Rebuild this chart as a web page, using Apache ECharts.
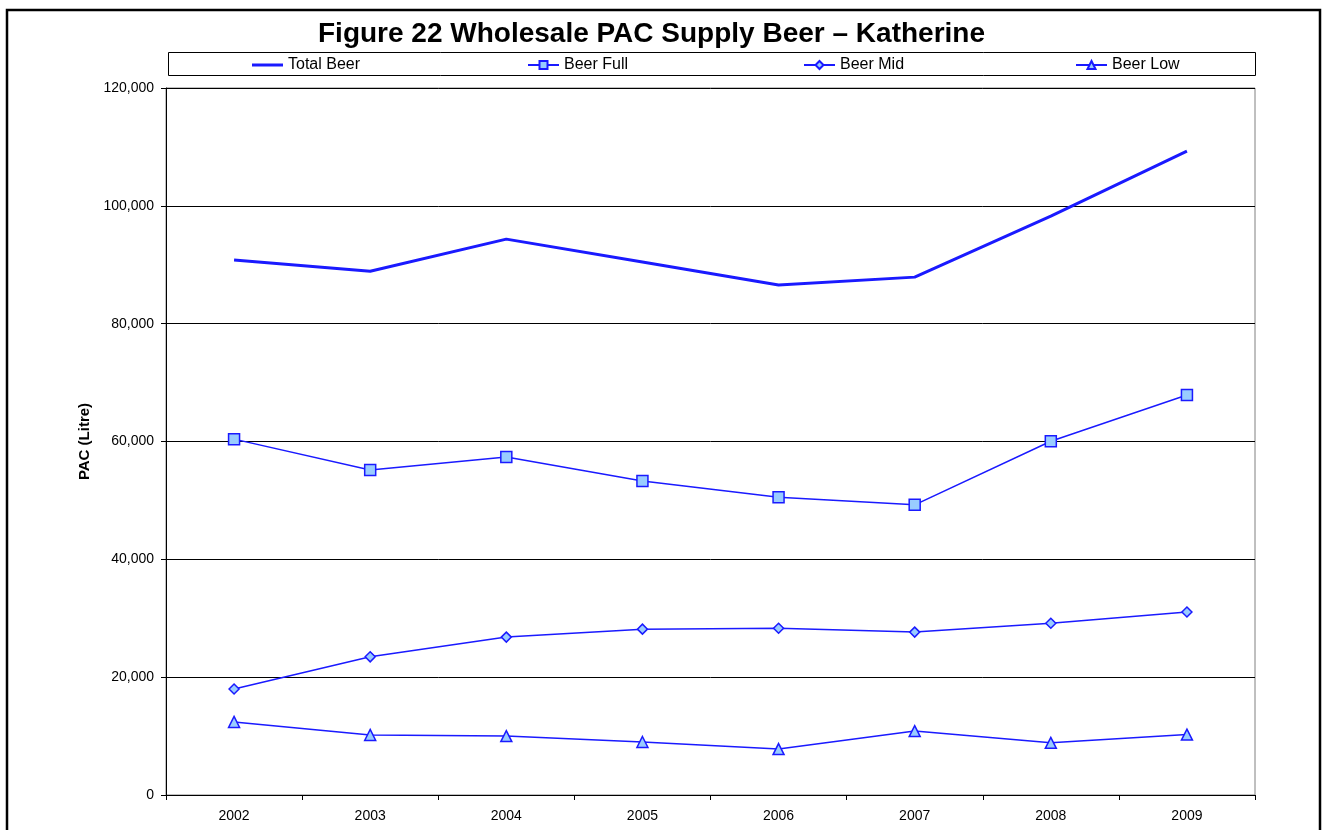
<!DOCTYPE html>
<html><head><meta charset="utf-8">
<script src="https://cdn.jsdelivr.net/npm/echarts@6/dist/echarts.min.js"></script>
<style>html,body{margin:0;padding:0;background:#fff}#c{width:1324px;height:830px}</style>
</head><body><div id="c"></div>
<script>
const years = ['2002','2003','2004','2005','2006','2007','2008','2009'];
const totalBeer = [90800, 88900, 94350, 90450, 86550, 87900, 98250, 109300];
const beerFull = [60400, 55150, 57350, 53300, 50550, 49250, 60050, 67900];
const beerMid = [18000, 23450, 26800, 28150, 28300, 27650, 29150, 31050];
const beerLow = [12400, 10200, 10000, 9000, 7800, 10850, 8850, 10250];
const yTicks = [0, 20000, 40000, 60000, 80000, 100000, 120000];

const lineColor = '#1a1aff';
const fillColor = '#99ccff';
const font = 'Liberation Sans, Arial, sans-serif';

const chart = echarts.init(document.getElementById('c'), null, {renderer:'canvas'});
function mk(name, data, symbol, size) {
  return {
    name, type:'line', data, symbol, symbolSize:size, showSymbol:true,
    lineStyle:{color:lineColor, width:1.5},
    itemStyle:{color:fillColor, borderColor:lineColor, borderWidth:1.5},
    animation:false
  };
}
const legendBase = {top:57, padding:0, itemWidth:31, itemHeight:10, itemGap:4,
  textStyle:{fontFamily:font, fontSize:16, color:'#000'}, selectedMode:false};
chart.setOption({
  backgroundColor:'#fff',
  animation:false,
  title:{text:'Figure 22 Wholesale PAC Supply Beer – Katherine', left:313, top:15,
    textStyle:{fontFamily:font, fontWeight:'bold', fontSize:28, color:'#000'}},
  graphic:[
    {type:'rect', shape:{x:7, y:10, width:1313, height:830}, style:{fill:null, stroke:'#000', lineWidth:2.5}, silent:true},
    {type:'rect', shape:{x:168.5, y:52.5, width:1087, height:23}, style:{fill:null, stroke:'#000', lineWidth:1}, silent:true}
  ],
  legend:[
    Object.assign({}, legendBase, {left:252, itemHeight:3, data:[{name:'Total Beer', icon:'rect'}]}),
    Object.assign({}, legendBase, {left:527, data:['Beer Full']}),
    Object.assign({}, legendBase, {left:803, data:['Beer Mid']}),
    Object.assign({}, legendBase, {left:1075, data:['Beer Low']})
  ],
  grid:{left:166, right:69, top:88, bottom:35, show:true, borderColor:'#808080', borderWidth:1, backgroundColor:'transparent'},
  xAxis:{type:'category', data:years, boundaryGap:true,
    axisLine:{lineStyle:{color:'#000', width:1}},
    axisTick:{show:true, alignWithLabel:false, length:5, lineStyle:{color:'#000'}},
    axisLabel:{fontFamily:font, fontSize:14, color:'#000', margin:14},
    splitLine:{show:false}},
  yAxis:{type:'value', min:0, max:120000, interval:20000,
    name:'PAC (Litre)', nameLocation:'middle', nameGap:70, nameRotate:90,
    nameTextStyle:{fontFamily:font, fontSize:15, fontWeight:'bold', color:'#000'},
    axisLine:{show:true, lineStyle:{color:'#000'}},
    axisTick:{show:true, length:5, lineStyle:{color:'#000'}},
    axisLabel:{fontFamily:font, fontSize:14, color:'#000', margin:12,
      formatter:v => yTicks.includes(v) ? v.toLocaleString('en-US') : ''},
    splitLine:{show:true, lineStyle:{color:'#000', width:1}}},
  series:[
    {name:'Total Beer', type:'line', data:totalBeer, symbol:'none', showSymbol:false,
      lineStyle:{color:lineColor, width:3}, itemStyle:{color:lineColor}},
    mk('Beer Full', beerFull, 'rect', 11),
    mk('Beer Mid', beerMid, 'diamond', 10),
    mk('Beer Low', beerLow, 'triangle', 11)
  ]
});
</script></body></html>
